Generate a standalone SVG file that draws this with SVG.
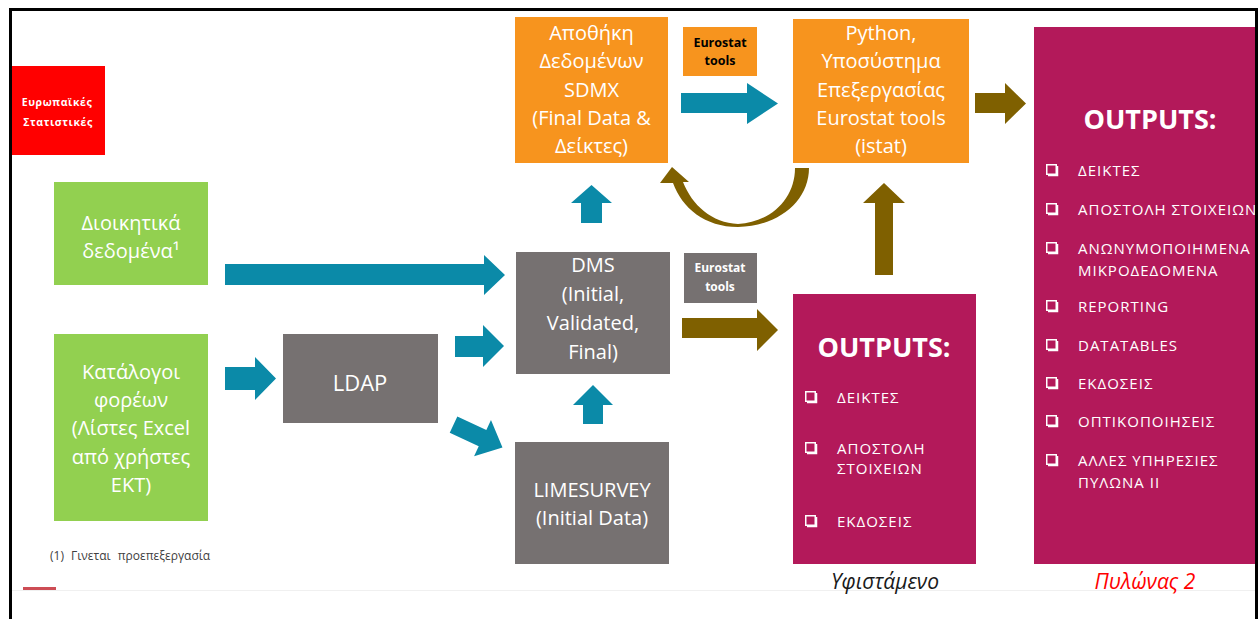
<svg xmlns="http://www.w3.org/2000/svg" xmlns:xlink="http://www.w3.org/1999/xlink" width="1258" height="619" viewBox="0 0 1258 619">
<style>
.box{font-family:"Open Sans","Noto Sans",sans-serif;font-size:20px;fill:#ffffff;text-anchor:middle}
.green{fill:#92d050}
.gray{fill:#767171}
.orange{fill:#f7941e}
.mag{fill:#b3195a}
.teal{fill:#0b8aa8}
.brown{fill:#7f6000}
.tools{font-family:"Open Sans","Noto Sans",sans-serif;font-weight:bold;font-size:12.5px;text-anchor:middle}
.title{font-family:"Open Sans","Noto Sans",sans-serif;font-weight:bold;font-size:27px;fill:#ffffff;text-anchor:middle}
.item{font-family:"Open Sans","Noto Sans",sans-serif;font-size:15px;fill:#ffffff;letter-spacing:1px}
.cap{font-family:"Open Sans","Noto Sans",sans-serif;font-style:italic;font-size:21px;text-anchor:middle}
</style>
<defs>
<g id="cb">
<rect x="0.75" y="0.75" width="9.5" height="9.5" fill="none" stroke="#ffffff" stroke-width="1.5"/>
<path d="M2 11.5 H11.5 V2" fill="none" stroke="#ffffff" stroke-width="1.5"/>
</g>
</defs>
<rect width="1258" height="619" fill="#ffffff"/>
<g id="frame">
<rect x="12" y="590" width="1243" height="1" fill="#f0f0f0"/>
<rect x="23" y="587" width="33" height="3" fill="#c0202a" opacity="0.8"/>
<rect x="9" y="8" width="1249" height="3" fill="#000000"/>
<rect x="9" y="8" width="3" height="611" fill="#000000"/>
</g>
<g id="connectors">
<path class="teal" d="M225 264 H484 V255 L505 275 L484 295 V285 H225 Z"/>
<path class="teal" d="M225 367 H255 V357 L276 378.5 L255 400 V390 H225 Z"/>
<path class="teal" d="M455 336 H483 V325 L504 346 L483 367 V357 H455 Z"/>
<path class="teal" transform="translate(478 436) rotate(25)" d="M-27 -9 H5 V-20 L27 0 L5 20 V9 H-27 Z"/>
<path class="teal" d="M583 424 V405 H573 L593 385 L613 405 H603 V424 Z"/>
<path class="teal" d="M581 223 V203 H571 L591.5 185 L612 203 H602 V223 Z"/>
<path class="teal" d="M681 93 H747 V83 L778 103.5 L747 124 V113 H681 Z"/>
<path class="brown" d="M975 93 H1005 V83 L1026 103.5 L1005 124 V113 H975 Z"/>
<path class="brown" d="M682 318 H757 V309 L778 330 L757 351 V338 H682 Z"/>
<path class="brown" d="M875 275 V203 H863 L884 183 L905 203 H893 V275 Z"/>
<path class="brown" d="M809 168 C809 200 780 226 738 227 C705 227 682 208 673 183 L660 183 L672 167 L689 182 L683 182 C692 205 712 223 738 224 C772 222 795 198 795 168 Z"/>
</g>
<g id="eurostat-stats">
<rect x="12" y="66" width="93" height="89" fill="#ff0000"/>
<text font-family="'Open Sans','Noto Sans',sans-serif" font-weight="bold" font-size="10.5" fill="#ffffff" text-anchor="middle" letter-spacing="0.6"><tspan x="57" y="106">Ευρωπαϊκές</tspan><tspan x="58" y="126">Στατιστικές</tspan></text>
</g>
<g id="admin-data">
<rect class="green" x="54" y="182" width="154" height="103"/>
<text class="box"><tspan x="131" y="230">Διοικητικά</tspan><tspan x="131" y="258">δεδομένα¹</tspan></text>
</g>
<g id="catalogues">
<rect class="green" x="54" y="334" width="154" height="187"/>
<text class="box"><tspan x="131" y="379">Κατάλογοι</tspan><tspan x="131" y="407">φορέων</tspan><tspan x="131" y="435">(Λίστες Excel</tspan><tspan x="131" y="464">από χρήστες</tspan><tspan x="131" y="492">ΕΚΤ)</tspan></text>
</g>
<g id="ldap">
<rect class="gray" x="283" y="334" width="155" height="89"/>
<text class="box" style="font-size:22px"><tspan x="360" y="391">LDAP</tspan></text>
</g>
<g id="dms">
<rect class="gray" x="516" y="252" width="154" height="122"/>
<text class="box"><tspan x="593" y="272">DMS</tspan><tspan x="593" y="301">(Initial,</tspan><tspan x="593" y="330">Validated,</tspan><tspan x="593" y="359">Final)</tspan></text>
</g>
<g id="limesurvey">
<rect class="gray" x="515" y="442" width="154" height="122"/>
<text class="box"><tspan x="592" y="497">LIMESURVEY</tspan><tspan x="592" y="525">(Initial Data)</tspan></text>
</g>
<g id="sdmx">
<rect class="orange" x="515" y="17" width="153" height="146"/>
<text class="box"><tspan x="591.5" y="40">Αποθήκη</tspan><tspan x="591.5" y="68">Δεδομένων</tspan><tspan x="591.5" y="97">SDMX</tspan><tspan x="591.5" y="125">(Final Data &amp;</tspan><tspan x="591.5" y="153">Δείκτες)</tspan></text>
</g>
<g id="eurostat-tools-1">
<rect class="orange" x="683" y="27" width="74" height="49"/>
<text class="tools" fill="#000000"><tspan x="720" y="47">Eurostat</tspan><tspan x="720" y="65">tools</tspan></text>
</g>
<g id="python">
<rect class="orange" x="793" y="19" width="176" height="144"/>
<text class="box"><tspan x="881" y="40">Python,</tspan><tspan x="881" y="68">Υποσύστημα</tspan><tspan x="881" y="97">Επεξεργασίας</tspan><tspan x="881" y="125">Eurostat tools</tspan><tspan x="881" y="153">(istat)</tspan></text>
</g>
<g id="eurostat-tools-2">
<rect class="gray" x="684" y="253" width="73" height="50"/>
<text class="tools" fill="#ffffff" style="font-size:12px"><tspan x="720" y="272">Eurostat</tspan><tspan x="720" y="291">tools</tspan></text>
</g>
<g id="outputs-current">
<rect class="mag" x="793" y="294" width="183" height="270"/>
<text class="title" x="884" y="357">OUTPUTS:</text>
<use xlink:href="#cb" x="805" y="391"/>
<use xlink:href="#cb" x="805" y="442"/>
<use xlink:href="#cb" x="805" y="515"/>
<text class="item"><tspan x="837" y="403">ΔΕΙΚΤΕΣ</tspan><tspan x="837" y="454">ΑΠΟΣΤΟΛΗ</tspan><tspan x="837" y="474">ΣΤΟΙΧΕΙΩΝ</tspan><tspan x="837" y="527">ΕΚΔΟΣΕΙΣ</tspan></text>
<text class="cap" x="885" y="589" fill="#1a1a1a">Υφιστάμενο</text>
</g>
<g id="outputs-pillar2">
<rect class="mag" x="1034" y="27" width="224" height="537"/>
<text class="title" x="1150" y="129">OUTPUTS:</text>
<use xlink:href="#cb" x="1046" y="164"/>
<use xlink:href="#cb" x="1046" y="203"/>
<use xlink:href="#cb" x="1046" y="242"/>
<use xlink:href="#cb" x="1046" y="300"/>
<use xlink:href="#cb" x="1046" y="339"/>
<use xlink:href="#cb" x="1046" y="377"/>
<use xlink:href="#cb" x="1046" y="415"/>
<use xlink:href="#cb" x="1046" y="454"/>
<text class="item"><tspan x="1078" y="176">ΔΕΙΚΤΕΣ</tspan><tspan x="1078" y="215">ΑΠΟΣΤΟΛΗ ΣΤΟΙΧΕΙΩΝ</tspan><tspan x="1078" y="254">ΑΝΩΝΥΜΟΠΟΙΗΜΕΝΑ</tspan><tspan x="1078" y="276">ΜΙΚΡΟΔΕΔΟΜΕΝΑ</tspan><tspan x="1078" y="312">REPORTING</tspan><tspan x="1078" y="351">DATATABLES</tspan><tspan x="1078" y="389">ΕΚΔΟΣΕΙΣ</tspan><tspan x="1078" y="427">ΟΠΤΙΚΟΠΟΙΗΣΕΙΣ</tspan><tspan x="1078" y="466">ΑΛΛΕΣ ΥΠΗΡΕΣΙΕΣ</tspan><tspan x="1078" y="488">ΠΥΛΩΝΑ ΙΙ</tspan></text>
<text class="cap" x="1145" y="589" fill="#ff0000">Πυλώνας 2</text>
</g>
<g id="footnote">
<text x="50" y="560" font-family="'Open Sans','Noto Sans',sans-serif" font-size="12" fill="#404040" word-spacing="4">(1) Γινεται προεπεξεργασία</text>
</g>
<rect x="1255" y="8" width="3" height="611" fill="#000000"/>
</svg>
